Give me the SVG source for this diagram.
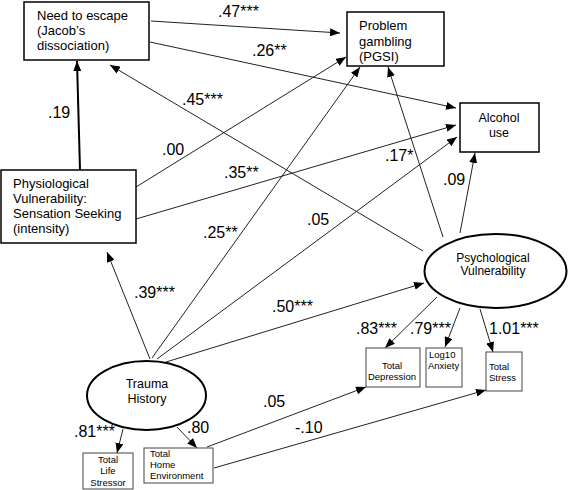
<svg xmlns="http://www.w3.org/2000/svg" width="568" height="490" viewBox="0 0 568 490">
<defs>
<marker id="ah" viewBox="0 0 10 8" refX="10" refY="4" markerWidth="10" markerHeight="8" markerUnits="userSpaceOnUse" orient="auto"><path d="M0,0 L10,4 L0,8 z" fill="#000"/></marker>
</defs>
<style>
.bx{fill:#fff;stroke:#000;stroke-width:1.5}
.sb{fill:#fff;stroke:#444;stroke-width:1}
.el{fill:#fff;stroke:#000;stroke-width:2}
.t{font-family:"Liberation Sans",Arial,sans-serif;font-size:13px;fill:#000}
.m{text-anchor:middle}
.s{font-family:"Liberation Sans",Arial,sans-serif;font-size:9.5px;fill:#000}
.lb{font-family:"Liberation Sans",Arial,sans-serif;font-size:16px;fill:#000}
.c line{stroke:#222;stroke-width:1;fill:none}
.c .a{marker-end:url(#ah)}
</style>
<rect width="568" height="490" fill="#fff"/>
<g class="c" id="connectors">
<line class="a" x1="151" y1="21" x2="340" y2="33"/>
<line class="a" x1="150" y1="42" x2="456" y2="108"/>
<line class="a" x1="423" y1="251" x2="110" y2="65"/>
<line class="a" x1="80" y1="170" x2="77" y2="61" style="stroke-width:2;stroke:#000"/>
<line class="a" x1="136" y1="187" x2="346" y2="57"/>
<line class="a" x1="136" y1="219" x2="456" y2="125"/>
<line class="a" x1="150" y1="359" x2="107" y2="252"/>
<line class="a" x1="152" y1="358" x2="360" y2="67"/>
<line class="a" x1="157" y1="359" x2="457" y2="137"/>
<line class="a" x1="166" y1="362" x2="424" y2="283"/>
<line class="a" x1="443" y1="237" x2="388" y2="67"/>
<line class="a" x1="460" y1="233" x2="475" y2="153"/>
<line class="a" x1="437" y1="297" x2="385" y2="348"/>
<line class="a" x1="460" y1="308" x2="445" y2="347"/>
<line class="a" x1="480" y1="309" x2="493" y2="352"/>
<line class="a" x1="123" y1="429" x2="117" y2="453"/>
<line class="a" x1="177" y1="427" x2="197" y2="448"/>
<line class="a" x1="207" y1="447" x2="366" y2="387"/>
<line class="a" x1="214" y1="468" x2="486" y2="390"/>
</g>
<g id="labels">
<text class="lb" x="218" y="17">.47***</text>
<text class="lb" x="252" y="56">.26**</text>
<text class="lb" x="182" y="105">.45***</text>
<text class="lb" x="48" y="118">.19</text>
<text class="lb" x="162" y="155">.00</text>
<text class="lb" x="224" y="178">.35**</text>
<text class="lb" x="385" y="161">.17*</text>
<text class="lb" x="443" y="185">.09</text>
<text class="lb" x="203" y="238">.25**</text>
<text class="lb" x="307" y="225">.05</text>
<text class="lb" x="134" y="298">.39***</text>
<text class="lb" x="272" y="312">.50***</text>
<text class="lb" x="356" y="334">.83***</text>
<text class="lb" x="410" y="334">.79***</text>
<text class="lb" x="489" y="334">1.01***</text>
<text class="lb" x="74" y="437">.81***</text>
<text class="lb" x="187" y="433">.80</text>
<text class="lb" x="263" y="407">.05</text>
<text class="lb" x="295" y="433">-.10</text>
</g>
<g id="need-to-escape">
<rect class="bx" x="24" y="2" width="125" height="58"/>
<text class="t" x="37" y="20">Need to escape</text>
<text class="t" x="37" y="35">(Jacob’s</text>
<text class="t" x="37" y="50">dissociation)</text>
</g>
<g id="problem-gambling">
<rect class="bx" x="347" y="12" width="97" height="54"/>
<text class="t" x="359" y="30">Problem</text>
<text class="t" x="359" y="46">gambling</text>
<text class="t" x="359" y="61">(PGSI)</text>
</g>
<g id="alcohol-use">
<rect class="bx" x="460" y="103" width="79" height="49"/>
<text class="t m" x="499" y="122" style="font-size:12.5px">Alcohol</text>
<text class="t m" x="499" y="137" style="font-size:12.5px">use</text>
</g>
<g id="physiological">
<rect class="bx" x="1" y="170" width="135" height="73"/>
<text class="t" x="13" y="188">Physiological</text>
<text class="t" x="13" y="203">Vulnerability:</text>
<text class="t" x="13" y="218">Sensation Seeking</text>
<text class="t" x="13" y="233">(intensity)</text>
</g>
<g id="psychological">
<ellipse class="el" cx="495.5" cy="271" rx="71" ry="37"/>
<text class="t m" x="493" y="262" style="font-size:12px">Psychological</text>
<text class="t m" x="493" y="275" style="font-size:12px">Vulnerability</text>
</g>
<g id="trauma">
<ellipse class="el" cx="146.5" cy="395.5" rx="59.5" ry="34.5"/>
<text class="t m" x="147" y="388" style="font-size:12.5px">Trauma</text>
<text class="t m" x="147" y="403" style="font-size:12.5px">History</text>
</g>
<g id="total-life-stressor">
<rect class="sb" x="83" y="453" width="50" height="36"/>
<text class="s m" x="108" y="463">Total</text>
<text class="s m" x="108" y="474">Life</text>
<text class="s m" x="108" y="486">Stressor</text>
</g>
<g id="total-home-environment">
<rect class="sb" x="144" y="448" width="69" height="35"/>
<text class="s" x="150" y="457">Total</text>
<text class="s" x="150" y="468">Home</text>
<text class="s" x="150" y="479">Environment</text>
</g>
<g id="total-depression">
<rect class="sb" x="366" y="348" width="54" height="39"/>
<text class="s m" x="392" y="369">Total</text>
<text class="s m" x="392" y="380">Depression</text>
</g>
<g id="log10-anxiety">
<rect class="sb" x="426" y="348" width="36" height="39"/>
<text class="s" x="429" y="358">Log10</text>
<text class="s" x="428" y="369">Anxiety</text>
</g>
<g id="total-stress">
<rect class="sb" x="486" y="352" width="36" height="39"/>
<text class="s" x="489" y="370">Total</text>
<text class="s" x="489" y="381">Stress</text>
</g>
</svg>
